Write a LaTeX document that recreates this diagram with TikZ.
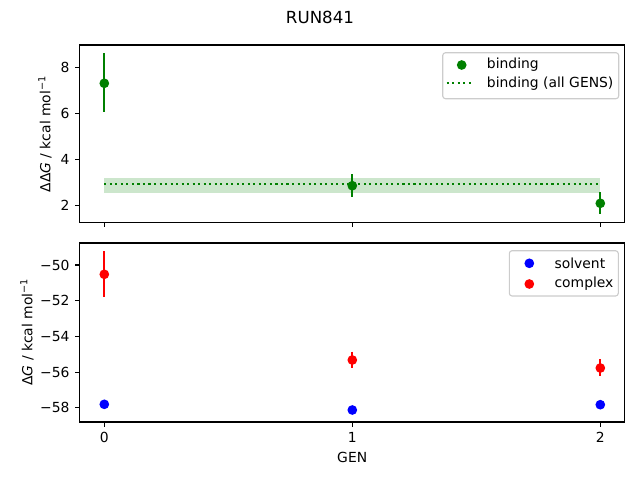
\documentclass[tikz,border=0pt]{standalone}
\usepackage{fontspec}
\setmainfont{DejaVu Sans}
\usepackage{xcolor}
\usepackage{tikz}
\usetikzlibrary{positioning}

\definecolor{mplgreen}{HTML}{008000}
\definecolor{mplblue}{HTML}{0000FF}
\definecolor{mplred}{HTML}{FF0000}
\definecolor{legedge}{HTML}{CCCCCC}

\begin{document}
\begin{tikzpicture}[
	x=0.72pt, y=-0.72pt,
	font=\fontsize{10}{12}\selectfont
]
\tikzset{
    axisbox/.style = {draw=black, line width=0.8pt},
    tickmark/.style = {draw=black, line width=0.8pt},
    ticklab/.style = {inner sep=0pt},
    dot/.style = {circle, inner sep=0pt, minimum size=7pt},
    errbar/.style = {line width=1.5pt},
    legbox/.style = {draw=legedge, fill=white, fill opacity=0.8, line width=0.8pt, rounded corners=2pt},
    legtext/.style = {anchor=west, inner sep=0pt}
}
\useasboundingbox (0,0) rectangle (640,480);

% title
\node[font=\fontsize{12}{14}\selectfont] (title) at (320,17) {RUN841};

% ---- top panel: binding ----
\fill[mplgreen, opacity=0.2] (104.3,177.7) rectangle (600.3,193.3);
\draw[mplgreen, line width=1.5pt, dash pattern=on 1.5pt off 2.475pt] (104.3,184.3) -- (600.3,184.3);
\draw[mplgreen, errbar] (104.3,53.3) -- (104.3,112.3);
\draw[mplgreen, errbar] (352.3,174.0) -- (352.3,197.3);
\draw[mplgreen, errbar] (600.3,192.0) -- (600.3,214.3);
\node[dot, fill=mplgreen] (bind0) at (104.3,83.3) {};
\node[dot, fill=mplgreen] (bind1) at (352.3,185.7) {};
\node[dot, fill=mplgreen] (bind2) at (600.3,203.3) {};
\draw[axisbox] (79.5,45) rectangle (624.8,222.5);
\draw[tickmark] (79.5,205.5) -- (74.6,205.5);
\draw[tickmark] (79.5,159.6) -- (74.6,159.6);
\draw[tickmark] (79.5,113.7) -- (74.6,113.7);
\draw[tickmark] (79.5,67.8) -- (74.6,67.8);
\node[ticklab, anchor=east] (ytop2) at (69.8,205.5) {2};
\node[ticklab, anchor=east] (ytop4) at (69.8,159.6) {4};
\node[ticklab, anchor=east] (ytop6) at (69.8,113.7) {6};
\node[ticklab, anchor=east] (ytop8) at (69.8,67.8) {8};
\draw[tickmark] (104.3,222.5) -- (104.3,227.4);
\draw[tickmark] (352.3,222.5) -- (352.3,227.4);
\draw[tickmark] (600.3,222.5) -- (600.3,227.4);
\node[rotate=90] (ylabtop) at (45,134) {ΔΔ\textit{G} / kcal mol\textsuperscript{−1}};

% top legend
\draw[legbox] (442.7,52.7) rectangle (618.7,98.7);
\node[dot, fill=mplgreen] (legbind) at (461.7,65) {};
\node[legtext] (legbindtxt) at (486.7,65) {binding};
\draw[mplgreen, line width=1.5pt, dash pattern=on 1.5pt off 2.475pt] (446.7,83.3) -- (471.7,83.3);
\node[legtext] (legalltxt) at (486.7,83.3) {binding (all GENS)};

% ---- bottom panel: solvent / complex ----
\draw[mplred, errbar] (104.3,251.0) -- (104.3,296.7);
\draw[mplred, errbar] (352.3,351.7) -- (352.3,367.7);
\draw[mplred, errbar] (600.3,359.3) -- (600.3,376.0);
\node[dot, fill=mplred] (cplx0) at (104.3,274.3) {};
\node[dot, fill=mplred] (cplx1) at (352.3,360.0) {};
\node[dot, fill=mplred] (cplx2) at (600.3,368.0) {};
\node[dot, fill=mplblue] (solv0) at (104.3,404.3) {};
\node[dot, fill=mplblue] (solv1) at (352.3,410.0) {};
\node[dot, fill=mplblue] (solv2) at (600.3,404.7) {};
\draw[axisbox] (79.5,243) rectangle (624.8,422);
\draw[tickmark] (79.5,265.0) -- (74.6,265.0);
\draw[tickmark] (79.5,300.7) -- (74.6,300.7);
\draw[tickmark] (79.5,336.4) -- (74.6,336.4);
\draw[tickmark] (79.5,372.1) -- (74.6,372.1);
\draw[tickmark] (79.5,407.8) -- (74.6,407.8);
\node[ticklab, anchor=east] (ybot50) at (69.8,265.0) {−50};
\node[ticklab, anchor=east] (ybot52) at (69.8,300.7) {−52};
\node[ticklab, anchor=east] (ybot54) at (69.8,336.4) {−54};
\node[ticklab, anchor=east] (ybot56) at (69.8,372.1) {−56};
\node[ticklab, anchor=east] (ybot58) at (69.8,407.8) {−58};
\draw[tickmark] (104.3,422) -- (104.3,426.9);
\draw[tickmark] (352.3,422) -- (352.3,426.9);
\draw[tickmark] (600.3,422) -- (600.3,426.9);
\node[ticklab, anchor=north] (xgen0) at (104.3,431.8) {0};
\node[ticklab, anchor=north] (xgen1) at (352.3,431.8) {1};
\node[ticklab, anchor=north] (xgen2) at (600.3,431.8) {2};
\node (xlab) at (352.2,457.7) {GEN};
\node[rotate=90] (ylabbot) at (27,332) {Δ\textit{G} / kcal mol\textsuperscript{−1}};

% bottom legend
\draw[legbox] (509.3,250.7) rectangle (618.3,296);
\node[dot, fill=mplblue] (legsolv) at (529.3,263.3) {};
\node[legtext] (legsolvtxt) at (554.3,263.3) {solvent};
\node[dot, fill=mplred] (legcplx) at (529.3,284) {};
\node[legtext] (legcplxtxt) at (554.3,284) {complex};
\end{tikzpicture}
\end{document}
